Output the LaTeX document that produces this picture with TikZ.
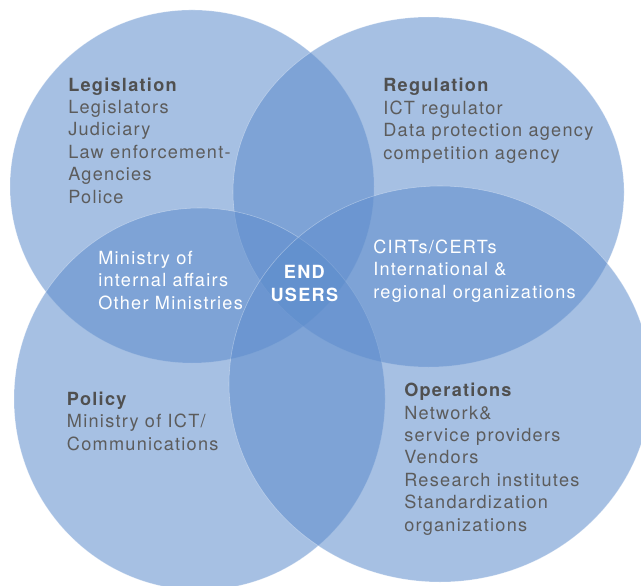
\documentclass[tikz,border=0pt]{standalone}
\usepackage{fontspec}
\setmainfont{TeX Gyre Heros}[LetterSpace=7]
\definecolor{venn}{RGB}{93,140,204}
\definecolor{inktext}{RGB}{92,92,92}
\definecolor{inkhead}{RGB}{80,80,80}

\tikzset{
  petal/.style={fill=venn, fill opacity=0.55, draw=white, draw opacity=0.35, line width=0.4pt},
  block/.style={anchor=base west, align=left, inner sep=0pt, text=inktext,
    font=\fontsize{12.9}{15.9}\selectfont},
  whiteblock/.style={block, text=white},
}

\begin{document}
\begin{tikzpicture}
\useasboundingbox (0,0) rectangle (16.025,14.625);
\clip (0,0) rectangle (16.025,14.625);
% the four overlapping fields
\draw[petal] (4.800,9.963) ellipse [x radius=4.550, y radius=4.413];
\draw[petal] (10.713,9.825) ellipse [x radius=4.888, y radius=4.375];
\draw[petal] (4.988,4.650) ellipse [x radius=4.638, y radius=4.775];
\draw[petal] (11.000,5.025) ellipse [x radius=5.275, y radius=4.950];
% texts (anchored at the baseline of their last line)
\node[block] (legislation) at (1.700,9.550) {\textcolor{inkhead}{\textbf{Legislation}}\\Legislators\\Judiciary\\Law enforcement-\\Agencies\\Police};
\node[block] (regulation) at (9.575,10.650) {\textcolor{inkhead}{\textbf{Regulation}}\\ICT regulator\\Data protection agency\\competition agency};
\node[whiteblock] (ministries) at (2.450,6.900) {Ministry of\\internal affairs\\Other Ministries};
\node[whiteblock] (cirts) at (9.325,7.175) {CIRTs/CERTs\\International \&\\regional organizations};
\node[whiteblock, anchor=base, align=center] (endusers) at (7.625,7.100) {\textbf{END}\\\textbf{USERS}};
\node[block] (policy) at (1.667,3.375) {\textcolor{inkhead}{\textbf{Policy}}\\Ministry of ICT/\\Communications};
\node[block] (operations) at (10.100,1.350) {\textcolor{inkhead}{\textbf{Operations}}\\Network\&\\service providers\\Vendors\\Research institutes\\Standardization\\organizations};
\end{tikzpicture}
\end{document}
